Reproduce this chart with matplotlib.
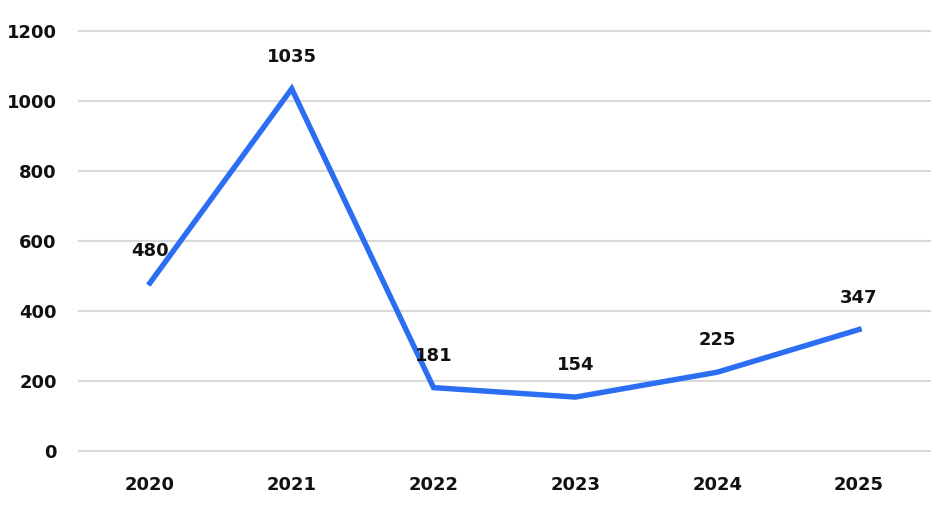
import matplotlib
matplotlib.use("Agg")
import matplotlib.pyplot as plt

years = ["2020", "2021", "2022", "2023", "2024", "2025"]
values = [480, 1035, 181, 154, 225, 347]
yticks = [0, 200, 400, 600, 800, 1000, 1200]

plt.rcParams['font.family'] = ['DejaVu Sans']

fig = plt.figure(figsize=(9.46, 5.05), dpi=100)
ax = fig.add_axes([0.0835, 0.107, 0.8995, 0.8316])

x = list(range(len(years)))
ax.plot(x, values, color='#2B6EF2', linewidth=3.9, solid_joinstyle='miter', zorder=3)

for xi, v in zip(x, values):
    ax.annotate(str(v), (xi, v), xytext=(0, 23), textcoords='offset points',
                ha='center', va='center', fontsize=13, fontweight='bold', color='#111111')

ax.set_xlim(-0.5, len(years) - 0.5)
ax.set_ylim(0, 1200)
ax.set_yticks(yticks)
ax.set_yticklabels([str(t) for t in yticks])
ax.set_xticks(x)
ax.set_xticklabels(years)
for lab in ax.get_xticklabels() + ax.get_yticklabels():
    lab.set_fontweight('bold')
    lab.set_fontsize(13)
    lab.set_color('#111111')

ax.grid(axis='y', color='#d9d9d9', linewidth=1.5)
for gl in ax.get_ygridlines():
    gl.set_clip_on(False)
ax.set_axisbelow(True)
for s in ax.spines.values():
    s.set_visible(False)
ax.tick_params(axis='both', length=0)
ax.tick_params(axis='y', pad=16)
ax.tick_params(axis='x', pad=18)

fig.savefig("out.png", dpi=100, facecolor='white')
